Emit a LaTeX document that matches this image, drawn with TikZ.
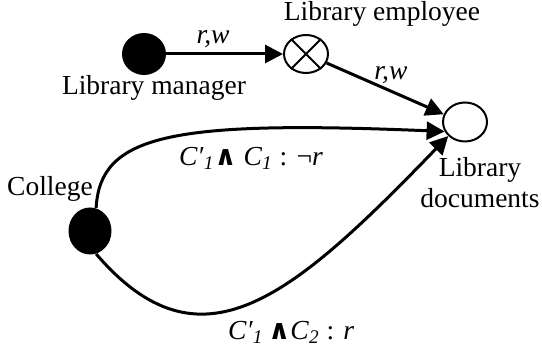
\documentclass[tikz,border=0pt]{standalone}
\usepackage{fontspec}
\setmainfont{Liberation Serif}
\newfontfamily\symfont{DejaVu Sans}
\usetikzlibrary{shapes.geometric,arrows.meta,positioning}

\begin{document}
\begin{tikzpicture}[
    x=0.5pt, y=0.5pt,
    font=\fontsize{13.75}{15.5}\selectfont,
    actor/.style={ellipse, fill=black, inner sep=0pt},
    object/.style={ellipse, draw, line width=1pt, inner sep=0pt, fill=white},
    lbl/.style={inner sep=0pt, align=center},
    arrow/.style={-{Triangle[length=9pt,width=9pt]}, line width=1.5pt}
]
\useasboundingbox (0,0) rectangle (542,352);

% Actors
\node[actor, minimum width=22pt, minimum height=21pt] (manager) at (144,298) {};
\node[actor, minimum width=21.5pt, minimum height=23.5pt] (college) at (90,121) {};

% Objects
\node[object, minimum width=22pt, minimum height=19pt] (employee) at (306,298) {};
\draw[line width=1pt] (employee.45) -- (employee.225) (employee.135) -- (employee.-45);
\node[object, minimum width=22pt, minimum height=19.5pt] (docs) at (465,230) {};

% Names
\node[lbl, below=0pt of manager, xshift=5pt] (managername) {Library manager};
\node[lbl, above=3.5pt of employee, xshift=38pt] (employeename) {Library employee};
\node[lbl, above=2.5pt of college, xshift=-20pt] (collegename) {College};
\node[lbl, below=7.5pt of docs, xshift=7.5pt] (docsname) {Library\\documents};

% Arrows
\draw[arrow] (manager) -- node[lbl, pos=0.4, anchor=base, yshift=5pt] (rw1) {\textit{r,w}} (employee);
\draw[arrow] (employee) -- node[lbl, pos=0.51, anchor=base, xshift=2.3pt, yshift=4.75pt] (rw2) {\textit{r,w}} (docs.160);
\draw[arrow] (college.75) .. controls (100,217) and (170,232) ..
    node[lbl, pos=0.7, anchor=base, xshift=1pt, yshift=-18pt] (cond1)
    {\textit{C′}\textsubscript{\textit{1}}{\symfont\bfseries ∧} \textit{C}\textsubscript{\textit{1}} : ¬\textit{r}} (docs.205);
\draw[arrow] (college.-75) .. controls (200,-23) and (290,52) ..
    node[lbl, pos=0.5, anchor=base, xshift=19.7pt, yshift=-18.75pt] (cond2)
    {\textit{C′}\textsubscript{\textit{1}}\,{\symfont\bfseries ∧}\textit{C}\textsubscript{\textit{2}} : \textit{r}} (docs.220);

\end{tikzpicture}
\end{document}
